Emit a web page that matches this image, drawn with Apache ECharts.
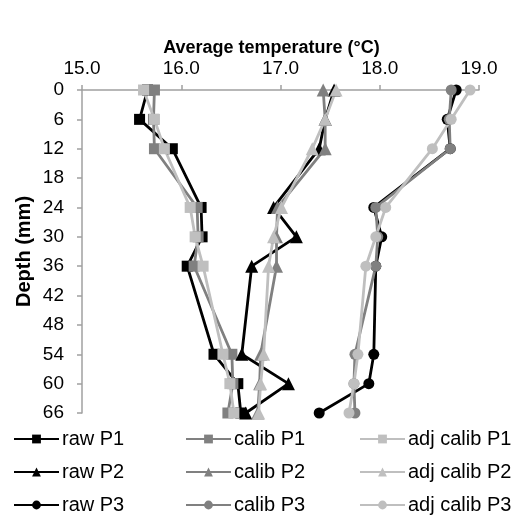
<!DOCTYPE html>
<html>
<head>
<meta charset="utf-8">
<script src="https://cdn.jsdelivr.net/npm/echarts@6.0.0/dist/echarts.min.js"></script>
<style>
html,body{margin:0;padding:0;background:#fff;}
#chart{width:522px;height:527px;}
</style>
</head>
<body>
<div id="chart"></div>
<script>
var depths = [0, 6, 12, 24, 30, 36, 54, 60, 66];
var rawP1 = [15.66, 15.58, 15.91, 16.20, 16.21, 16.06, 16.33, 16.57, 16.60];
var calibP1 = [15.73, 15.72, 15.73, 16.16, 16.17, 16.13, 16.51, 16.52, 16.47];
var adjP1 = [15.62, 15.73, 15.83, 16.09, 16.14, 16.22, 16.42, 16.49, 16.53];
var rawP2 = [17.54, 17.45, 17.39, 16.93, 17.16, 16.71, 16.61, 17.08, 16.65];
var calibP2 = [17.43, 17.45, 17.45, 16.97, 16.96, 16.96, 16.80, 16.79, 16.77];
var adjP2 = [17.56, 17.45, 17.32, 17.01, 16.93, 16.88, 16.83, 16.80, 16.78];
var rawP3 = [18.77, 18.68, 18.71, 17.94, 18.02, 17.96, 17.94, 17.89, 17.39];
var calibP3 = [18.72, 18.70, 18.71, 17.96, 17.98, 17.96, 17.75, 17.74, 17.75];
var adjP3 = [18.91, 18.72, 18.53, 18.06, 17.96, 17.86, 17.78, 17.74, 17.69];

var FONT = "'Liberation Sans', Arial, sans-serif";
var BLACK = "#000000", GREY = "#808080", LIGHT = "#bfbfbf";

function pairs(vals){
	return vals.map(function(v, i){ return [v, depths[i]]; });
}
function line(name, vals, color, symbol){
	return {
		name: name,
		type: 'line',
		data: pairs(vals),
		symbol: symbol,
		symbolSize: symbol === 'triangle' ? 13 : 11,
		showSymbol: true,
		lineStyle: {color: color, width: 2.8},
		itemStyle: {color: color},
		animation: false
	};
}
// one legend per column, so the three columns line up
function legendCol(left, names){
	return {
		orient: 'vertical',
		left: left,
		top: 429,
		padding: 0,
		itemGap: 13,
		itemWidth: 45,
		itemHeight: 11,
		data: names,
		textStyle: {fontFamily: FONT, fontSize: 20, color: '#000', padding: [0, 0, 0, -2]}
	};
}

var chart = echarts.init(document.getElementById('chart'));
chart.setOption({
	backgroundColor: '#fff',
	textStyle: {fontFamily: FONT},
	grid: {left: 82, right: 43, top: 90, bottom: 114},
	legend: [
		legendCol(13, ['raw P1', 'raw P2', 'raw P3']),
		legendCol(185, ['calib P1', 'calib P2', 'calib P3']),
		legendCol(359, ['adj calib P1', 'adj calib P2', 'adj calib P3'])
	],
	xAxis: {
		type: 'value',
		position: 'top',
		min: 15,
		max: 19,
		interval: 1,
		name: 'Average temperature (°C)',
		nameLocation: 'middle',
		nameGap: 33,
		nameMoveOverlap: false,
		nameTextStyle: {fontFamily: FONT, fontSize: 18, fontWeight: 'bold', color: '#000', padding: [0, 18, 0, 0]},
		axisLine: {show: true, lineStyle: {color: '#a0a0a0', width: 1.5}},
		axisTick: {show: true, inside: false, length: 5, lineStyle: {color: '#a0a0a0', width: 1.5}},
		splitLine: {show: false},
		axisLabel: {
			fontFamily: FONT, fontSize: 19, color: '#000', margin: 12,
			formatter: function(v){ return v.toFixed(1); }
		}
	},
	yAxis: {
		type: 'value',
		inverse: true,
		min: 0,
		max: 66,
		interval: 6,
		name: 'Depth (mm)',
		nameLocation: 'middle',
		nameGap: 48,
		nameMoveOverlap: false,
		nameRotate: 90,
		nameTextStyle: {fontFamily: FONT, fontSize: 20, fontWeight: 'bold', color: '#000'},
		axisLine: {show: true, lineStyle: {color: '#a0a0a0', width: 1.5}},
		axisTick: {show: true, inside: false, length: 5, lineStyle: {color: '#a0a0a0', width: 1.5}},
		splitLine: {show: false},
		axisLabel: {fontFamily: FONT, fontSize: 19, color: '#000', margin: 18}
	},
	series: [
		line('raw P1', rawP1, BLACK, 'rect'),
		line('calib P1', calibP1, GREY, 'rect'),
		line('adj calib P1', adjP1, LIGHT, 'rect'),
		line('raw P2', rawP2, BLACK, 'triangle'),
		line('calib P2', calibP2, GREY, 'triangle'),
		line('adj calib P2', adjP2, LIGHT, 'triangle'),
		line('raw P3', rawP3, BLACK, 'circle'),
		line('calib P3', calibP3, GREY, 'circle'),
		line('adj calib P3', adjP3, LIGHT, 'circle')
	]
});
</script>
</body>
</html>
